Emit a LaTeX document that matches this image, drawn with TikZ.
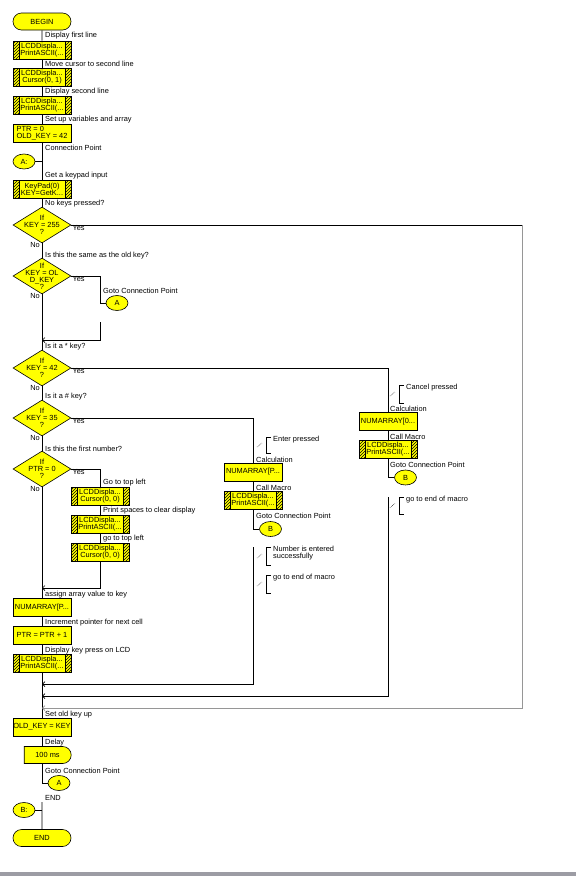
\documentclass[tikz,border=0pt]{standalone}
\usepackage{fontspec}
\setmainfont{Liberation Sans}
\usetikzlibrary{shapes.geometric, shapes.misc, arrows.meta, patterns}

\definecolor{fcyellow}{RGB}{255,255,0}
\definecolor{fcgray}{RGB}{150,150,150}
\definecolor{fcbar}{RGB}{156,156,164}

\tikzset{
  flow/.style={draw=black, line width=0.7pt},
  mergeline/.style={flow, -{Straight Barb[length=2.5pt, width=5pt]}},
  box/.style={draw, line width=0.6pt, fill=fcyellow, minimum width=58pt, minimum height=18pt, inner sep=0pt, align=center},
  calc/.style={box, align=left},
  macro/.style={box, path picture={
      \fill[pattern=north east lines] (path picture bounding box.south west) rectangle ([xshift=6pt]path picture bounding box.north west);
      \fill[pattern=north east lines] ([xshift=-6pt]path picture bounding box.south east) rectangle (path picture bounding box.north east);
      \draw ([xshift=6pt]path picture bounding box.south west) -- ([xshift=6pt]path picture bounding box.north west);
      \draw ([xshift=-6pt]path picture bounding box.south east) -- ([xshift=-6pt]path picture bounding box.north east);
  }},
  terminal/.style={draw, line width=0.6pt, fill=fcyellow, rounded rectangle, minimum width=58pt, minimum height=17pt, inner sep=0pt},
  conn/.style={draw, line width=0.6pt, fill=fcyellow, ellipse, minimum width=22pt, minimum height=15pt, inner sep=0pt},
  delaybox/.style={draw, line width=0.6pt, fill=fcyellow, rounded rectangle, rounded rectangle west arc=none, minimum width=47pt, minimum height=17pt, inner sep=0pt},
  decision/.style={draw, line width=0.6pt, fill=fcyellow, diamond, minimum width=58pt, minimum height=36pt, inner sep=0pt},
  note/.style={anchor=west, inner sep=0pt},
  yes/.style={anchor=north west, inner sep=0pt},
  no/.style={anchor=north east, inner sep=0pt}
}

\begin{document}
\begin{tikzpicture}[x=1pt, y=-1pt, font=\fontsize{7.4}{7}\selectfont]
    \useasboundingbox (0,0) rectangle (576,876);
    \fill[fcbar] (0,872) rectangle (576,876);

    % main column
    \node[terminal] (begin) at (42,21.5) {BEGIN};
    \node[macro] (m1) at (42,50) {LCDDispla...\\PrintASCII(...};
    \node[macro] (m2) at (42,77) {LCDDispla...\\Cursor(0, 1)};
    \node[macro] (m3) at (42,105.5) {LCDDispla...\\PrintASCII(...};
    \node[calc] (c1) at (42,133.5) {PTR = 0\\OLD\_KEY = 42};
    \node[conn] (a1) at (24,161.5) {A:};
    \node[macro] (m4) at (42,189) {KeyPad(0)\\KEY=GetK...};
    \node[decision, label={[align=center]center:{If\\KEY = 255\\?}}] (d1) at (42,225) {};
    \node[decision, label={[align=center]center:{If\\KEY = OL\\D\_KEY\\?}}] (d2) at (42,276) {};
    \node[decision, label={[align=center]center:{If\\KEY = 42\\?}}] (d3) at (42,368) {};
    \node[decision, label={[align=center]center:{If\\KEY = 35\\?}}] (d4) at (42,418) {};
    \node[decision, label={[align=center]center:{If\\PTR = 0\\?}}] (d5) at (42,469) {};
    \node[calc] (c2) at (42,607.5) {NUMARRAY[P...};
    \node[calc] (c3) at (42,635) {PTR = PTR + 1};
    \node[macro] (m8) at (42,663.5) {LCDDispla...\\PrintASCII(...};
    \node[calc] (c4) at (42,727) {OLD\_KEY = KEY};
    \node[delaybox] (delay) at (47.5,755) {100 ms};
    \node[conn] (a3) at (59,783) {A};
    \node[conn] (b0) at (24,810) {B:};
    \node[terminal] (stop) at (42,838) {END};

    % first number branch
    \node[conn] (a2) at (117,303) {A};
    \node[macro] (m5) at (100,496) {LCDDispla...\\Cursor(0, 0)};
    \node[macro] (m6) at (100,524) {LCDDispla...\\PrintASCII(...};
    \node[macro] (m7) at (100,552) {LCDDispla...\\Cursor(0, 0)};

    % enter / cancel branches
    \node[calc] (c5) at (253,472) {NUMARRAY[P...};
    \node[macro] (m9) at (253,500.5) {LCDDispla...\\PrintASCII(...};
    \node[conn] (b1) at (270.5,529) {B};
    \node[calc] (c6) at (388,421.5) {NUMARRAY[0...};
    \node[macro] (m10) at (388,449) {LCDDispla...\\PrintASCII(...};
    \node[conn] (b2) at (405.5,477.5) {B};

    % notes beside the flow
    \foreach \x/\y/\t in {45/36/Display first line, 45/64/Move cursor to second line,
        45/92/Display second line, 45/120/Set up variables and array,
        45/148/Connection Point, 45/176/Get a keypad input, 45/204/No keys pressed?,
        45/256/Is this the same as the old key?, 103/291/Goto Connection Point,
        45/347/Is it a * key?, 45/397/Is it a \# key?, 45/449/Is this the first number?,
        103/483/Go to top left, 103/511/Print spaces to clear display, 103/539/go to top left,
        45/595/assign array value to key, 45/623/Increment pointer for next cell,
        45/651/Display key press on LCD, 45/715/Set old key up, 45/743/Delay,
        45/771/Goto Connection Point, 45/798/END,
        256/460/Calculation, 256/488/Call Macro, 256/516/Goto Connection Point,
        390/409/Calculation, 390/437/Call Macro, 390/465/Goto Connection Point} {
        \node[note] (n-\x-\y) at (\x,\y) {\t};
    }

    % comments
    \foreach \x/\t/\b/\txt in {266/437/453/Enter pressed, 266/547/565/{Number is entered\\successfully},
        266/575/593/go to end of macro, 399/385/403/Cancel pressed, 399/497/514/go to end of macro} {
        \draw[line width=0.5pt] (\x+5,\t) -- (\x,\t) -- (\x,\b) -- (\x+5,\b);
        \draw[densely dotted, line width=0.5pt] (\x-9,{(\t+\b)/2+2}) -- (\x-4,{(\t+\b)/2-2});
        \node[anchor=north west, inner sep=0pt, align=left] (cm-\x-\t) at (\x+7,\t-1.5) {\txt};
    }

    % yes / no
    \foreach \d in {d1, d2, d3, d4, d5} {
        \node[yes] (\d-yes) at ([xshift=1pt, yshift=-0.5pt]\d.east) {Yes};
        \node[no] (\d-no) at ([xshift=-2pt, yshift=1pt]\d.south) {No};
    }

    \coordinate (k1) at (522,225);
    \coordinate (j1) at (42,708);
    \coordinate (k2) at (100,322);
    \coordinate (j2) at (42,340);
    \coordinate (k3) at (388,497);
    \coordinate (j3) at (42,696);
    \coordinate (k4) at (253,547);
    \coordinate (j4) at (42,684);
    \coordinate (j5) at (42,588);

    % spine
    \draw[flow] (begin) -- (m1);
    \draw[flow] (m1) -- (m2);
    \draw[flow] (m2) -- (m3);
    \draw[flow] (m3) -- (c1);
    \draw[flow] (c1) -- (m4);
    \draw[flow] (a1) -- (a1 -| c1);
    \draw[flow] (m4) -- (d1);
    \draw[flow] (d1) -- (d2);
    \draw[flow] (d2) -- (d3);
    \draw[flow] (d3) -- (d4);
    \draw[flow] (d4) -- (d5);
    \draw[flow] (d5) -- (c2);
    \draw[flow] (c2) -- (c3);
    \draw[flow] (c3) -- (m8);
    \draw[flow] (m8) -- (c4);
    \draw[flow] (c4.south) -- (c4.south |- delay.north);
    \draw[flow] (c4.south |- delay.south) |- (a3.west);
    \draw[flow] (b0.east) -- (b0.east -| stop.north);
    \draw[flow] (stop.north |- b0.north) -- (stop);

    % branches
    \draw[flow] (d1.east) -- (k1);
    \draw[mergeline, draw=fcgray] (k1) |- (j1);
    \draw[flow] (d2.east) -| (k2 |- a2.west) -- (a2.west);
    \draw[mergeline] (k2) |- (j2);
    \draw[flow] (d3.east) -| (c6.north);
    \draw[flow] (c6) -- (m10);
    \draw[flow] (m10.south) |- (b2.west);
    \draw[mergeline] (k3) |- (j3);
    \draw[flow] (d4.east) -| (c5.north);
    \draw[flow] (c5) -- (m9);
    \draw[flow] (m9.south) |- (b1.west);
    \draw[mergeline] (k4) |- (j4);
    \draw[flow] (d5.east) -| (m5.north);
    \draw[flow] (m5) -- (m6);
    \draw[flow] (m6) -- (m7);
    \draw[mergeline] (m7.south) |- (j5);
\end{tikzpicture}
\end{document}
